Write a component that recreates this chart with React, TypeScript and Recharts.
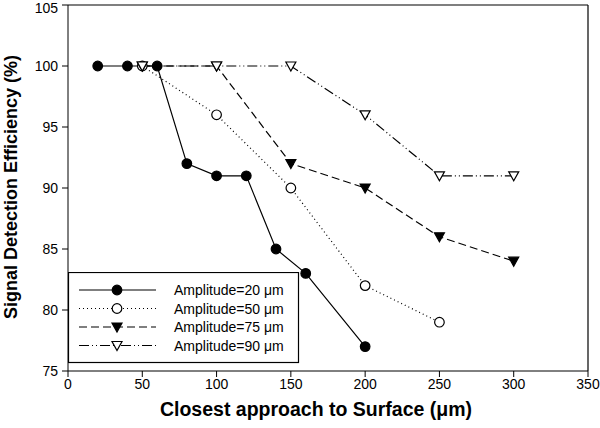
import React from 'react';
import {
  LineChart,
  Line,
  XAxis,
  YAxis,
  ReferenceLine,
} from 'recharts';

// Closest approach (um) and detection efficiency (%) per amplitude
const x20 = [20, 40, 60, 80, 100, 120, 140, 160, 200];
const y20 = [100, 100, 100, 92, 91, 91, 85, 83, 77];
const x50 = [50, 100, 150, 200, 250];
const y50 = [100, 96, 90, 82, 79];
const x75 = [50, 100, 150, 200, 250, 300];
const y75 = [100, 100, 92, 90, 86, 84];
const x90 = [50, 100, 150, 200, 250, 300];
const y90 = [100, 100, 100, 96, 91, 91];

const xTicks = [0, 50, 100, 150, 200, 250, 300, 350];
const yTicks = [75, 80, 85, 90, 95, 100, 105];

const seriesNames = ['Amplitude=20 μm', 'Amplitude=50 μm', 'Amplitude=75 μm', 'Amplitude=90 μm'];

const FONT = '"Liberation Sans", Arial, sans-serif';

type MarkerKind = 'circle' | 'openCircle' | 'triangle' | 'openTriangle';

const toRows = (xs: number[], ys: number[]) => xs.map((x, i) => ({ x, y: ys[i] }));

const series = [
  { name: seriesNames[0], data: toRows(x20, y20), dash: undefined, marker: 'circle' as MarkerKind },
  { name: seriesNames[1], data: toRows(x50, y50), dash: '1 3', marker: 'openCircle' as MarkerKind },
  { name: seriesNames[2], data: toRows(x75, y75), dash: '8 4', marker: 'triangle' as MarkerKind },
  { name: seriesNames[3], data: toRows(x90, y90), dash: '10 3 1 3 1 3', marker: 'openTriangle' as MarkerKind },
];

function Marker({ kind, cx, cy }: { kind: MarkerKind; cx: number; cy: number }) {
  if (kind === 'circle' || kind === 'openCircle') {
    return (
      <circle
        cx={cx}
        cy={cy}
        r={4.8}
        fill={kind === 'circle' ? '#000' : '#fff'}
        stroke="#000"
        strokeWidth={1.2}
      />
    );
  }
  const pts = `${cx - 5},${cy - 4} ${cx + 5},${cy - 4} ${cx},${cy + 5}`;
  return (
    <polygon
      points={pts}
      fill={kind === 'triangle' ? '#000' : '#fff'}
      stroke="#000"
      strokeWidth={1.2}
    />
  );
}

function LegendBox() {
  const rowY = [18, 36.5, 55, 73.5];
  return (
    <svg
      width={232}
      height={92}
      style={{ position: 'absolute', left: 68, top: 272 }}
    >
      <rect x={0.5} y={0.5} width={230} height={90} fill="#fff" stroke="#000" strokeWidth={1.2} />
      {series.map((s, i) => (
        <g key={s.name}>
          <line
            x1={11}
            x2={88}
            y1={rowY[i]}
            y2={rowY[i]}
            stroke="#000"
            strokeWidth={1.2}
            strokeDasharray={s.dash}
          />
          <Marker kind={s.marker} cx={49} cy={rowY[i]} />
          <text
            x={106}
            y={rowY[i]}
            dominantBaseline="central"
            fontSize={14}
            fontFamily={FONT}
            fill="#000"
          >
            {s.name}
          </text>
        </g>
      ))}
    </svg>
  );
}

export default function App() {
  return (
    <div style={{ position: 'absolute', left: 0, top: 0, width: 600, height: 428, background: '#fff' }}>
      <LineChart width={600} height={428} margin={{ top: 5, right: 12, left: 0, bottom: 0 }}>
        <XAxis
          type="number"
          dataKey="x"
          domain={[0, 350]}
          ticks={xTicks}
          allowDataOverflow
          stroke="#000"
          tickSize={6}
          tickMargin={2}
          height={57}
          tick={{ fill: '#000', fontSize: 14, fontFamily: FONT }}
          label={{
            content: () => (
              <text
                x={316}
                y={409}
                textAnchor="middle"
                dominantBaseline="central"
                fontSize={19.5}
                fontWeight="bold"
                fontFamily={FONT}
                fill="#000"
              >
                Closest approach to Surface (μm)
              </text>
            ),
          }}
        />
        <YAxis
          type="number"
          dataKey="y"
          domain={[75, 105]}
          ticks={yTicks}
          allowDataOverflow
          stroke="#000"
          tickSize={6}
          tickMargin={4}
          width={68}
          tick={{ fill: '#000', fontSize: 14, fontFamily: FONT }}
          label={{
            content: () => (
              <text
                x={11}
                y={187}
                transform="rotate(-90 11 187)"
                textAnchor="middle"
                dominantBaseline="central"
                fontSize={18}
                fontWeight="bold"
                fontFamily={FONT}
                fill="#000"
              >
                Signal Detection Efficiency (%)
              </text>
            ),
          }}
        />
        <ReferenceLine y={105} stroke="#000" strokeWidth={1.2} />
        <ReferenceLine x={350} stroke="#000" strokeWidth={1.2} />
        {series.map((s) => (
          <Line
            key={s.name}
            data={s.data}
            dataKey="y"
            name={s.name}
            type="linear"
            stroke="#000"
            strokeWidth={1.2}
            strokeDasharray={s.dash}
            isAnimationActive={false}
            dot={(p: any) => <Marker key={`${s.name}-${p.index}`} kind={s.marker} cx={p.cx} cy={p.cy} />}
            activeDot={false}
          />
        ))}
      </LineChart>
      <LegendBox />
    </div>
  );
}
